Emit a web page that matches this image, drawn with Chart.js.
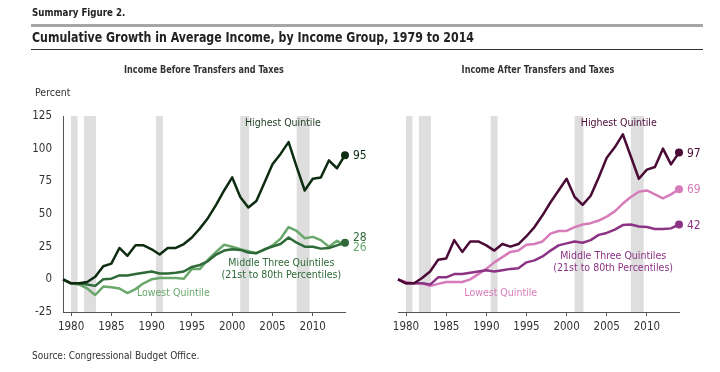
<!DOCTYPE html>
<html>
<head>
<meta charset="utf-8">
<script src="https://cdn.jsdelivr.net/npm/chart.js@4.4.0/dist/chart.umd.min.js"></script>
<style>
  body { margin: 0; background: #fff; }
  #wrap { position: relative; width: 720px; height: 372px; overflow: hidden;
    font-family: 'Liberation Sans Narrow', 'DejaVu Sans Condensed', sans-serif; color: #222; }
  canvas { position: absolute; top: 0; }
  .txt { position: absolute; white-space: nowrap; z-index: 2; }
  .rule { position: absolute; left: 31px; width: 672px; z-index: 2; }
</style>
</head>
<body>
<div id="wrap">
  <div class="txt" style="left:32px; top:6px; font-size:10.5px; font-weight:bold; transform:scaleX(0.92); transform-origin:left;">Summary Figure 2.</div>
  <div class="rule" style="top:24px; height:3px; background:#a6a6a6;"></div>
  <div class="txt" style="left:32px; top:29px; font-size:14.5px; font-weight:bold; transform:scaleX(0.845); transform-origin:left;">Cumulative Growth in Average Income, by Income Group, 1979 to 2014</div>
  <div class="rule" style="top:49px; height:1px; background:#333;"></div>
  <div class="txt" style="left:204px; top:63px; font-size:10.5px; font-weight:bold; transform:translateX(-50%) scaleX(0.86); color:#333;">Income Before Transfers and Taxes</div>
  <div class="txt" style="left:538px; top:63px; font-size:10.5px; font-weight:bold; transform:translateX(-50%) scaleX(0.86); color:#333;">Income After Transfers and Taxes</div>
  <div class="txt" style="left:35px; top:86px; font-size:10.5px; color:#333;">Percent</div>
  <div class="txt" style="left:32px; top:350px; font-size:10px; color:#333;">Source: Congressional Budget Office.</div>
  <canvas id="before" width="400" height="372" style="left:0"></canvas>
  <canvas id="after" width="360" height="372" style="left:360px"></canvas>
</div>
<script>
// years 1979..2014
const years = [];
for (let y = 1979; y <= 2014; y++) years.push(y);

const xTicks = [1980, 1985, 1990, 1995, 2000, 2005, 2010];
const yTicks = [-25, 0, 25, 50, 75, 100, 125];

// recession periods (shaded)
const recessions = [[1980.0, 1980.8], [1981.6, 1983.1], [1990.55, 1991.4], [2001.0, 2002.1], [2008.0, 2009.6]];

// income before transfers and taxes
const beforeHighest = [0, -3, -3, -2, 2, 10, 12, 24, 18, 26, 26, 23, 19, 24, 24, 27, 32, 39, 47, 57, 68, 78,
  63, 55, 60, 74, 88, 96, 105, 86, 68, 77, 78, 91, 85, 95];
const beforeMiddle = [0, -3, -3, -4, -5, 0, 0.5, 3, 3, 4, 5, 6, 4.5, 4.5, 5, 6, 9.5, 11, 14, 19, 22, 23,
  22.5, 20.5, 20, 23, 25, 27, 32, 28, 25, 25, 23.5, 24, 26, 28];
const beforeLowest = [0, -3, -4, -7, -12, -5.5, -6, -7, -10.5, -7.5, -3, 0, 1, 1, 1, 0.5, 8, 8, 15, 21, 26.5, 25,
  23, 21.5, 20, 22.5, 26, 31, 40, 37, 31.5, 32.5, 30, 25, 29.5, 26];

// income after transfers and taxes
const afterHighest = [0, -3, -3, 1, 6, 15, 16, 30, 21, 29, 29, 26, 22, 27, 25, 27, 33, 40, 49, 59, 68, 77,
  63, 57, 64, 78, 93, 101, 111, 94, 77, 84, 86, 100, 88, 97];
const afterMiddle = [0, -3, -3, -3, -4, 1.5, 1.5, 4, 4, 5, 6, 7, 6, 7, 8, 8.5, 13, 14.5, 17.5, 22, 26, 27.5,
  29, 28, 30, 34, 35.5, 38, 41.5, 42, 40.5, 40, 38.5, 38.5, 39, 42];
const afterLowest = [0, -2, -3, -3, -5, -3.5, -2, -2, -2, 0, 4, 8, 13, 17, 21, 22, 26.5, 27, 29, 35, 37, 37,
  40, 42, 43, 45, 48, 52, 58, 63, 67, 68, 65, 62, 65, 69];

const FONT = "'Liberation Sans Narrow', 'DejaVu Sans Condensed', sans-serif";
Chart.defaults.font.family = FONT;
Chart.defaults.font.size = 11;
Chart.defaults.color = '#333';

const toPoints = vals => vals.map((v, i) => ({ x: years[i], y: v }));

function series(label, vals, color, dot) {
  const n = vals.length;
  return {
    label: label,
    data: toPoints(vals),
    borderColor: color,
    backgroundColor: color,
    borderWidth: 2.5,
    tension: 0,
    clip: false,
    borderJoinStyle: 'round',
    pointRadius: ctx => (dot && ctx.dataIndex === n - 1) ? 4 : 0,
    pointHoverRadius: 0,
    pointBorderWidth: 0
  };
}

const recessionPlugin = {
  id: 'recessions',
  beforeDatasetsDraw(chart) {
    const { ctx, chartArea, scales } = chart;
    ctx.save();
    ctx.fillStyle = '#dedede';
    recessions.forEach(([a, b]) => {
      const x1 = scales.x.getPixelForValue(a);
      const x2 = scales.x.getPixelForValue(b);
      ctx.fillRect(x1, chartArea.top, x2 - x1, chartArea.bottom - chartArea.top);
    });
    ctx.restore();
  }
};

const labelPlugin = {
  id: 'seriesLabels',
  afterDatasetsDraw(chart, args, opts) {
    const { ctx, scales } = chart;
    ctx.save();
    ctx.textBaseline = 'middle';
    ctx.font = '10.5px ' + FONT;
    (opts.names || []).forEach(l => {
      ctx.fillStyle = l.color;
      ctx.textAlign = 'center';
      const x = scales.x.getPixelForValue(l.x);
      const y = scales.y.getPixelForValue(l.y);
      l.lines.forEach((t, i) => ctx.fillText(t, x, y + i * 12));
    });
    ctx.font = '12px ' + FONT;
    ctx.textAlign = 'left';
    chart.data.datasets.forEach((ds, i) => {
      const last = ds.data[ds.data.length - 1];
      const dy = (opts.endNudge && opts.endNudge[i]) || 0;
      ctx.fillStyle = ds.borderColor;
      ctx.fillText(String(Math.round(last.y)), scales.x.getPixelForValue(last.x) + 8,
        scales.y.getPixelForValue(last.y) + dy);
    });
    ctx.restore();
  }
};

function makeChart(id, datasets, showY, padLeft, padRight, names, endNudge) {
  return new Chart(document.getElementById(id), {
    type: 'line',
    data: { datasets: datasets },
    plugins: [recessionPlugin, labelPlugin],
    options: {
      responsive: false,
      animation: false,
      events: [],
      layout: { padding: { top: 116, left: padLeft, right: padRight, bottom: 0 } },
      plugins: {
        legend: { display: false },
        tooltip: { enabled: false },
        seriesLabels: { names: names, endNudge: endNudge }
      },
      scales: {
        x: {
          type: 'linear',
          min: 1979,
          max: 2014,
          afterBuildTicks: s => { s.ticks = xTicks.map(v => ({ value: v })); },
          afterFit: s => { s.height = 60; },
          grid: { display: true, drawOnChartArea: false, drawTicks: true, tickLength: 4, color: '#555' },
          border: { display: true, color: '#555', width: 1 },
          ticks: { padding: 4, color: '#333', font: { size: 11.5 }, callback: v => String(v) }
        },
        y: {
          display: showY,
          min: -25,
          max: 125,
          afterBuildTicks: s => { s.ticks = yTicks.map(v => ({ value: v })); },
          afterFit: s => { if (showY) s.width = 63; },
          grid: { display: false, drawTicks: false },
          border: { display: true, color: '#555', width: 1 },
          ticks: { padding: 11, color: '#333', font: { size: 11.5 } }
        }
      }
    }
  });
}

const gDark = '#0e2c12', gMid = '#2e6a37', gLight = '#6aa86c';
const pDark = '#4a0b36', pMid = '#8c3384', pLight = '#d77cbb';

makeChart('before', [
  series('Highest Quintile', beforeHighest, gDark, true),
  series('Middle Three Quintiles', beforeMiddle, gMid, true),
  series('Lowest Quintile', beforeLowest, gLight, false)
], true, 0, 55, [
  { lines: ['Highest Quintile'], x: 2006.3, y: 119.5, color: '#1a3a1e' },
  { lines: ['Middle Three Quintiles', '(21st to 80th Percentiles)'], x: 2006.1, y: 12, color: gMid },
  { lines: ['Lowest Quintile'], x: 1992.7, y: -11, color: gLight }
], [1, -5, 3]);

makeChart('after', [
  series('Highest Quintile', afterHighest, pDark, true),
  series('Middle Three Quintiles', afterMiddle, pMid, true),
  series('Lowest Quintile', afterLowest, pLight, true)
], false, 38, 41, [
  { lines: ['Highest Quintile'], x: 2006.5, y: 119.5, color: pDark },
  { lines: ['Middle Three Quintiles', '(21st to 80th Percentiles)'], x: 2005.8, y: 17.5, color: pMid },
  { lines: ['Lowest Quintile'], x: 1991.8, y: -11, color: pLight }
], [1, 1, 1]);
</script>
</body>
</html>
